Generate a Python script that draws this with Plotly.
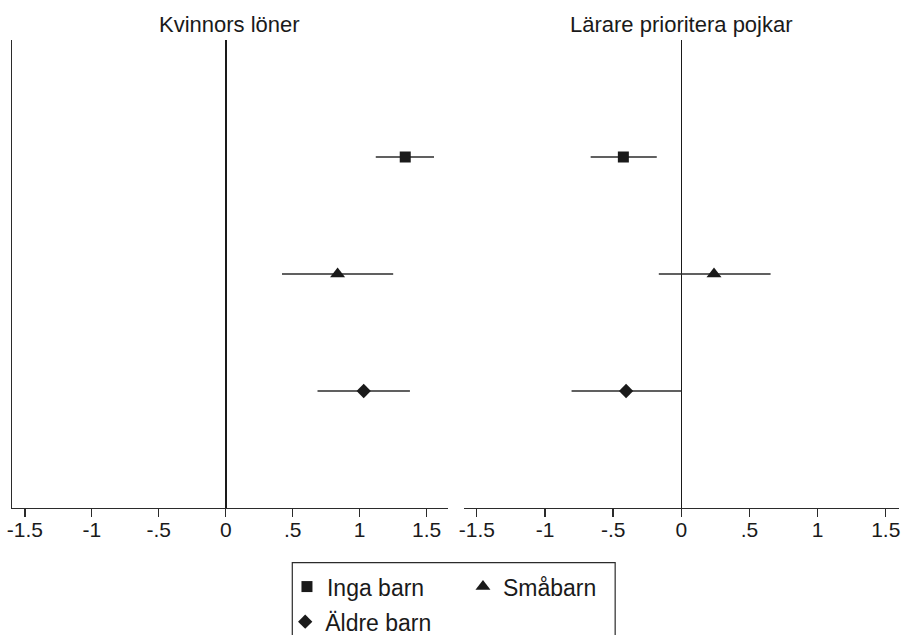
import plotly.graph_objects as go

groups = ["Inga barn", "Småbarn", "Äldre barn"]
group_pos = [1, 2, 3]
symbols = ["square", "triangle-up", "diamond"]
marker_sizes = [11, 13, 11]

panel_titles = ["Kvinnors löner", "Lärare prioritera pojkar"]

left_est = [1.34, 0.835, 1.03]
left_lo = [1.12, 0.42, 0.685]
left_hi = [1.555, 1.25, 1.375]

right_est = [-0.425, 0.24, -0.405]
right_lo = [-0.665, -0.165, -0.805]
right_hi = [-0.18, 0.655, 0.0]

tick_vals = [-1.5, -1, -0.5, 0, 0.5, 1, 1.5]
tick_text = ["-1.5", "-1", "-.5", "0", ".5", "1", "1.5"]

FONT = "Liberation Sans, Arial, sans-serif"
INK = "#1a1a1a"
LINE = "#2b2b2b"

fig = go.Figure()

panels = [(left_est, left_lo, left_hi, "x", "y"), (right_est, right_lo, right_hi, "x2", "y2")]
for pi, (est, lo, hi, xa, ya) in enumerate(panels):
    for i, g in enumerate(groups):
        fig.add_trace(go.Scatter(
            x=[est[i]], y=[group_pos[i]],
            xaxis=xa, yaxis=ya,
            mode="markers",
            name=g,
            legend="legend2" if i == 2 else "legend",
            showlegend=(pi == 0),
            marker=dict(symbol=symbols[i], size=marker_sizes[i], color=INK, line=dict(width=0)),
            error_x=dict(type="data", symmetric=False,
                         array=[hi[i] - est[i]], arrayminus=[est[i] - lo[i]],
                         color=LINE, thickness=1.4, width=0),
        ))

axis_common = dict(
    tickvals=tick_vals, ticktext=tick_text,
    ticks="outside", ticklen=8, tickwidth=1.3, tickcolor=LINE,
    ticklabelstandoff=-6, ticklabeloverflow="allow",
    showline=True, linecolor=LINE, linewidth=1.4,
    showgrid=False,
    zeroline=True, zerolinecolor=INK, zerolinewidth=1.5,
    tickfont=dict(family=FONT, size=21, color=INK),
)

fig.update_layout(
    width=901, height=635,
    margin=dict(l=12, r=2, t=40, b=127, autoexpand=False),
    paper_bgcolor="white", plot_bgcolor="white",
    font=dict(family=FONT, color=INK),
    xaxis=dict(domain=[0, 0.4915], range=[-1.596, 1.659], **axis_common),
    xaxis2=dict(domain=[0.5099, 1.0], range=[-1.592, 1.597], **axis_common),
    yaxis=dict(range=[4, 0], showline=True, linecolor=LINE, linewidth=1.4,
               showticklabels=False, ticks="", showgrid=False, zeroline=False),
    yaxis2=dict(anchor="x2", range=[4, 0], showline=False,
                showticklabels=False, ticks="", showgrid=False, zeroline=False),
    legend=dict(orientation="h", x=0.310, xanchor="left", y=-0.168, yanchor="middle",
                entrywidth=131, entrywidthmode="pixels",
                font=dict(family=FONT, size=23, color=INK),
                bgcolor="rgba(0,0,0,0)", borderwidth=0, itemclick=False),
    legend2=dict(orientation="h", x=0.308, xanchor="left", y=-0.243, yanchor="middle",
                 font=dict(family=FONT, size=23, color=INK),
                 bgcolor="rgba(0,0,0,0)", borderwidth=0, itemclick=False),
    shapes=[dict(type="rect", xref="paper", yref="paper",
                 x0=0.316, x1=0.680, y0=-0.1169, y1=-0.30,
                 line=dict(color=LINE, width=1.2), fillcolor="rgba(0,0,0,0)")],
)

for title, dom in zip(panel_titles, [[0, 0.4915], [0.5099, 1.0]]):
    fig.add_annotation(text=title, xref="paper", yref="paper",
                       x=(dom[0] + dom[1]) / 2, y=1.034, xanchor="center", yanchor="middle",
                       showarrow=False, font=dict(family=FONT, size=22, color=INK))

fig.write_html(
    "out.html",
    config={"displayModeBar": False, "staticPlot": True},
    post_script="document.documentElement.style.overflow='hidden';"
                "document.body.style.margin='0';document.body.style.overflow='hidden';",
)
